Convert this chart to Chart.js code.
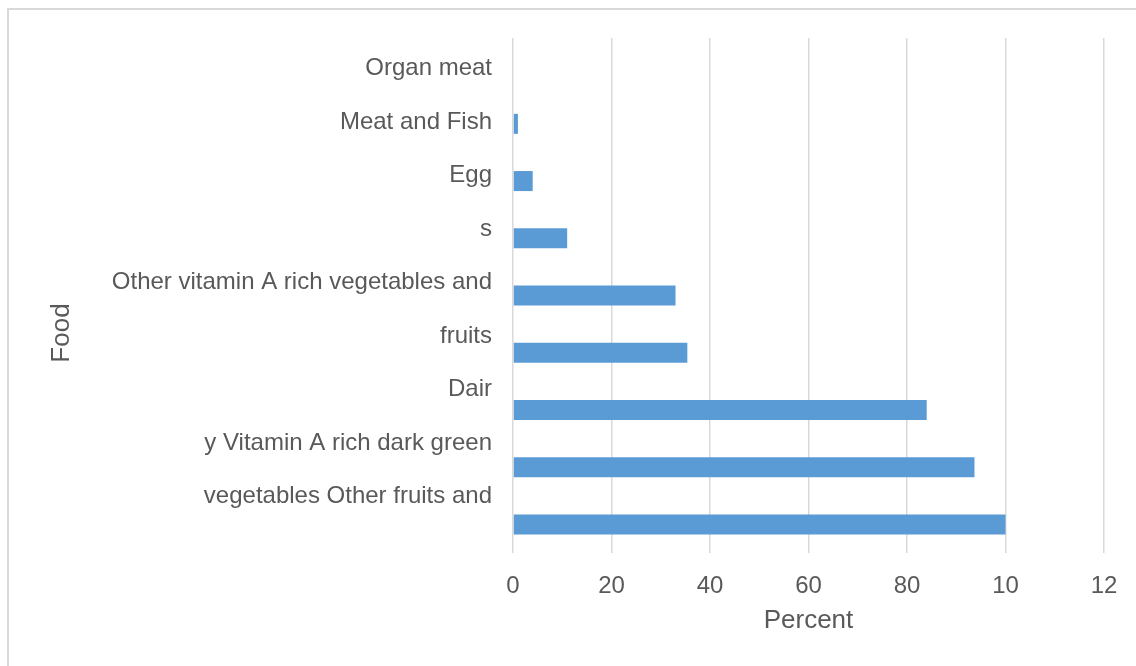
<!DOCTYPE html>
<html>
<head>
<meta charset="utf-8">
<script src="https://cdn.jsdelivr.net/npm/chart.js@4.4.1/dist/chart.umd.min.js"></script>
<style>
  html, body { margin: 0; padding: 0; background: #fff; }
  #wrap { position: relative; width: 1136px; height: 666px; }
</style>
</head>
<body>
<div id="wrap"><canvas id="foodChart"></canvas></div>
<script>
const categories = [
  'Organ meat',
  'Meat and Fish',
  'Egg',
  's',
  'Other vitamin A rich vegetables and',
  'fruits',
  'Dair',
  'y Vitamin A rich dark green',
  'vegetables Other fruits and',
];
const percentValues = [0, 1, 4, 11, 33, 35.4, 84, 93.7, 100];
const xTickLabels = ['0', '20', '40', '60', '80', '10', '12'];
const xAxisTitle = 'Percent';
const yAxisTitle = 'Food';

const textColor = '#595959';
const fontFamily = '"Liberation Sans", Arial, sans-serif';

// frame + the shifted category labels + rotated y title
const labelsPlugin = {
  id: 'labelsPlugin',
  beforeDraw(chart) {
    const ctx = chart.ctx;
    ctx.save();
    ctx.strokeStyle = '#d9d9d9';
    ctx.lineWidth = 2;
    ctx.strokeRect(8, 9, 1200, 700);
    ctx.restore();
  },
  afterDraw(chart) {
    const ctx = chart.ctx;
    const yScale = chart.scales.y;
    const area = chart.chartArea;
    const step = (yScale.bottom - yScale.top) / categories.length * 0.935;

    ctx.save();
    ctx.fillStyle = textColor;
    ctx.font = '24px ' + fontFamily;
    ctx.textAlign = 'right';
    ctx.textBaseline = 'alphabetic';
    categories.forEach((label, i) => {
      const y = yScale.top + (i + 0.5) * step + 10.3;
      ctx.fillText(label, area.left - 21, y);
    });

    ctx.font = '26px ' + fontFamily;
    ctx.translate(62, 333);
    ctx.rotate(-Math.PI / 2);
    ctx.textAlign = 'center';
    ctx.textBaseline = 'middle';
    ctx.fillText(yAxisTitle, 0, 0);
    ctx.restore();
  },
};

new Chart(document.getElementById('foodChart'), {
  type: 'bar',
  data: {
    labels: categories,
    datasets: [
      {
        label: 'Percent',
        data: percentValues,
        backgroundColor: '#5b9bd5',
        borderWidth: 0,
        barPercentage: 0.35,
        categoryPercentage: 1,
      },
    ],
  },
  options: {
    indexAxis: 'y',
    responsive: true,
    maintainAspectRatio: false,
    animation: false,
    layout: {
      padding: { top: 38, right: 32, bottom: 0, left: 0 },
    },
    plugins: {
      legend: { display: false },
      tooltip: { enabled: false },
    },
    scales: {
      x: {
        min: 0,
        max: 120,
        ticks: {
          stepSize: 20,
          padding: 18.5,
          color: textColor,
          font: { family: fontFamily, size: 24 },
          callback: (value, index) => xTickLabels[index],
        },
        grid: {
          color: '#d9d9d9',
          lineWidth: 1.5,
          drawTicks: false,
        },
        border: { display: false },
        title: {
          display: true,
          text: xAxisTitle,
          color: textColor,
          font: { family: fontFamily, size: 26 },
          padding: { top: 0, bottom: 30 },
        },
        afterFit: (scale) => {
          scale.height = 113;
        },
      },
      y: {
        ticks: { display: false },
        grid: { display: false },
        border: { display: false },
        afterFit: (scale) => {
          scale.width = 513;
        },
      },
    },
  },
  plugins: [labelsPlugin],
});
</script>
</body>
</html>
